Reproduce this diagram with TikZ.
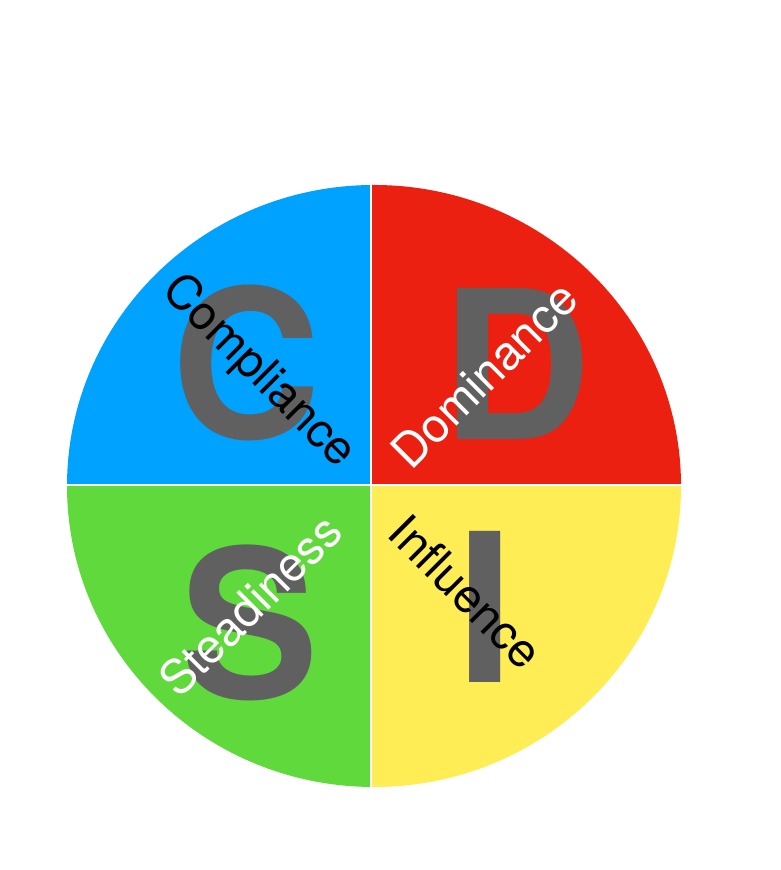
\documentclass[tikz,border=0pt]{standalone}
\usepackage{fontspec}
\setmainfont{TeX Gyre Heros}
\definecolor{qblue}{RGB}{0,162,255}
\definecolor{qred}{RGB}{235,32,16}
\definecolor{qgreen}{RGB}{95,217,59}
\definecolor{qyellow}{RGB}{255,237,85}
\definecolor{letgray}{RGB}{96,96,96}

\begin{document}
\begin{tikzpicture}[
  every node/.style={inner sep=0pt},
  bigletter/.style={font=\fontsize{59}{59}\selectfont\bfseries, text=letgray},
  tag/.style={font=\fontsize{13.5}{13.5}\selectfont},
  divider/.style={white, line width=0.8pt},
]
\useasboundingbox (0,0) rectangle (7.8,8.7);

%% ---- four quadrants of the disc ----
\begin{scope}
  \clip (3.74,3.84) ellipse [x radius=3.07, y radius=3.01];
  \fill[qblue]   (3.71,3.85) rectangle (0,8.7);
  \fill[qred]    (3.71,3.85) rectangle (7.8,8.7);
  \fill[qgreen]  (3.71,3.85) rectangle (0,0);
  \fill[qyellow] (3.71,3.85) rectangle (7.8,0);
  \draw[divider] (3.71,0) -- (3.71,8.7);
  \draw[divider] (0,3.85) -- (7.8,3.85);
\end{scope}

%% ---- big letters ----
\node[bigletter] (letC) at (2.46,5.07) {C};
\node[bigletter] (letD) at (5.16,5.06) {D};
\node[bigletter] (letS) at (2.50,2.47) {S};
\node[bigletter] (letI) at (4.85,2.63) {I};

%% ---- diagonal labels ----
\node[tag, rotate=-45] (compl) at (2.58,4.98) {Compliance};
\node[tag, rotate=45, text=white] (domin) at (4.84,4.95) {Dominance};
\node[tag, rotate=45, text=white] (stead) at (2.50,2.65) {Steadiness};
\node[tag, rotate=-45] (influ) at (4.66,2.78) {Influence};

\end{tikzpicture}
\end{document}
